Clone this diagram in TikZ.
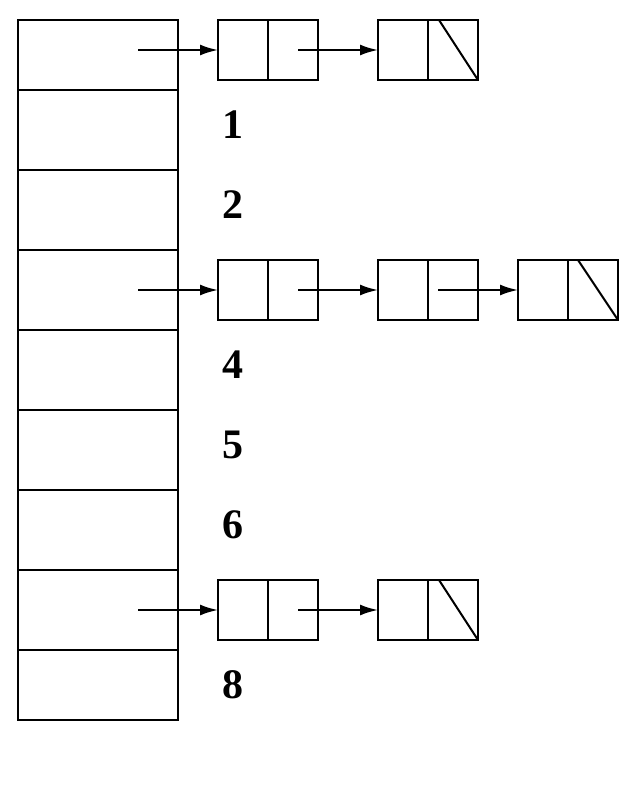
\documentclass[tikz,border=0pt]{standalone}
\usepackage{fontspec}
\setmainfont{Liberation Serif}
\usetikzlibrary{arrows.meta,positioning}

\begin{document}
\begin{tikzpicture}[x=0.5pt, y=-0.5pt, line width=1pt,
  slot/.style={draw, minimum width=80pt, minimum height=40pt, outer sep=0pt},
  half/.style={draw, minimum width=25pt, minimum height=30pt, outer sep=0pt},
  link/.style={-{Latex[length=9pt, width=5.5pt]}},
  idx/.style={font=\fontsize{21}{25}\selectfont\bfseries}]
	\useasboundingbox (0,0) rectangle (640,800);

	% the table
	\node (s0) [slot, minimum height=35pt, anchor=north west] at (18,20) {};
	\foreach \i [count=\j from 0] in {1,...,7}
		\node (s\i) [slot, below=0pt of s\j] {};
	\node (s8) [slot, minimum height=35pt, below=0pt of s7] {};

	\foreach \i in {1,2,4,5,6,8}
		\node (l\i) [idx] at (233, {45+80*\i}) {\i};

	% list of slot 0
	\node (k01) [half] at (243,50) {};
	\node (n01) [half, right=0pt of k01] {};
	\node (k02) [half, right=30pt of n01] {};
	\node (n02) [half, right=0pt of k02] {};
	\coordinate (p0) at (138,50);
	\draw [link] (p0) -- (k01.west);
	\draw [link] ([xshift=2.5pt]n01.center) -- (k02.west);
	\draw ([xshift=5.5pt]n02.north west) -- (n02.south east);

	% list of slot 3
	\node (k31) [half] at (243,290) {};
	\node (n31) [half, right=0pt of k31] {};
	\node (k32) [half, right=30pt of n31] {};
	\node (n32) [half, right=0pt of k32] {};
	\node (k33) [half, right=20pt of n32] {};
	\node (n33) [half, right=0pt of k33] {};
	\coordinate (p3) at (138,290);
	\draw [link] (p3) -- (k31.west);
	\draw [link] ([xshift=2.5pt]n31.center) -- (k32.west);
	\draw [link] ([xshift=-7.5pt]n32.center) -- (k33.west);
	\draw ([xshift=5pt]n33.north west) -- (n33.south east);

	% list of slot 7
	\node (k71) [half] at (243,610) {};
	\node (n71) [half, right=0pt of k71] {};
	\node (k72) [half, right=30pt of n71] {};
	\node (n72) [half, right=0pt of k72] {};
	\coordinate (p7) at (138,610);
	\draw [link] (p7) -- (k71.west);
	\draw [link] ([xshift=2.5pt]n71.center) -- (k72.west);
	\draw ([xshift=5.5pt]n72.north west) -- (n72.south east);
\end{tikzpicture}
\end{document}
